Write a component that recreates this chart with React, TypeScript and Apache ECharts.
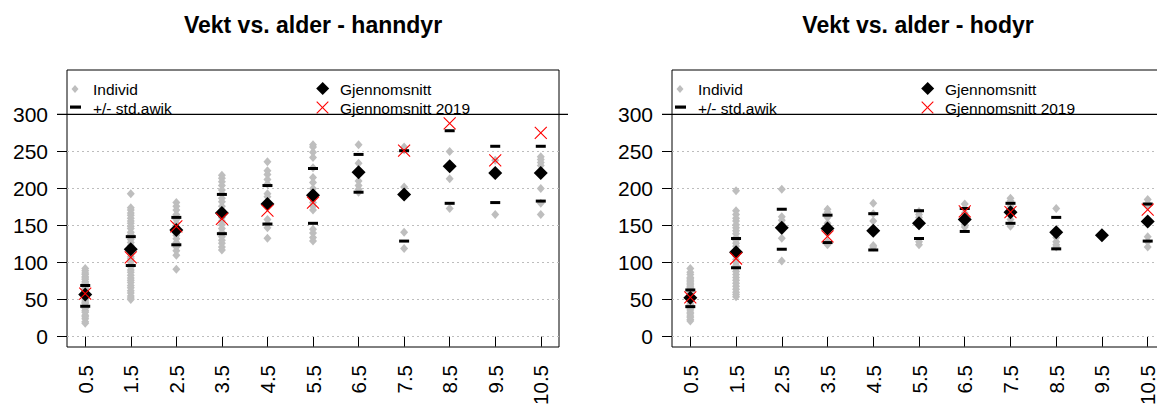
import React, { useEffect, useRef } from 'react';
import * as echarts from 'echarts';

const FONT = 'Liberation Sans, Arial, sans-serif';

const ages = [0.5, 1.5, 2.5, 3.5, 4.5, 5.5, 6.5, 7.5, 8.5, 9.5, 10.5];
const yTicks = [0, 50, 100, 150, 200, 250, 300];
const gridLineValues = [0, 50, 100, 150, 200, 250];

const titles = ['Vekt vs. alder - hanndyr', 'Vekt vs. alder - hodyr'];
const legendNames = ['Individ', '+/- std.awik', 'Gjennomsnitt', 'Gjennomsnitt 2019'];

// Hanndyr
const hannIndivid: number[][] = [
  [18, 20, 24, 27, 29, 33, 35, 38, 40, 42, 45, 46, 48, 50, 52, 54, 55, 57, 58, 60, 62, 64, 65, 67, 69, 71, 72, 74, 77, 79, 81, 84, 86, 89, 92],
  [193, 174, 171, 167, 164, 160, 156, 153, 149, 146, 141, 138, 134, 131, 127, 123, 119, 116, 112, 108, 105, 101, 97, 94, 90, 87, 83, 79, 76, 73, 69, 66, 62, 59, 55, 52, 50],
  [181, 176, 171, 165, 158, 153, 148, 144, 140, 137, 132, 127, 121, 116, 110, 91],
  [218, 214, 209, 204, 198, 193, 187, 182, 176, 171, 166, 161, 156, 151, 146, 141, 135, 130, 126, 121, 117],
  [236, 224, 219, 212, 206, 193, 189, 158, 152, 147, 133],
  [259, 256, 249, 242, 228, 215, 208, 200, 193, 186, 181, 176, 171, 145, 140, 134, 129],
  [259, 234, 210, 204, 199, 195],
  [256, 252, 202, 141, 119],
  [250, 213, 173],
  [238, 165],
  [243, 239, 235, 231, 200, 180, 165],
];
const hannMean = [57, 118, 144, 167, 179, 191, 222, 192, 230, 221, 221];
const hannSdHigh = [69, 135, 161, 192, 204, 227, 246, 251, 278, 257, 257];
const hannSdLow = [41, 96, 124, 139, 152, 153, 195, 129, 180, 181, 183];
const hannMean2019: (number | null)[] = [58, 107, 149, 159, 170, 181, null, 251, 288, 238, 275];

// Hodyr
const hoIndivid: number[][] = [
  [21, 23, 26, 28, 31, 33, 36, 38, 40, 43, 44, 47, 49, 51, 53, 55, 56, 58, 60, 62, 64, 66, 68, 70, 72, 74, 76, 78, 80, 84, 87, 92],
  [197, 170, 165, 160, 156, 151, 147, 143, 139, 134, 130, 126, 122, 117, 113, 109, 104, 100, 96, 92, 88, 84, 80, 76, 72, 68, 64, 60, 57, 54],
  [199, 162, 157, 152, 147, 143, 133, 102],
  [172, 168, 161, 153, 146, 140, 128, 124],
  [180, 166, 156, 123, 121],
  [169, 165, 161, 157, 150, 128, 124],
  [179, 173, 167, 162, 156, 151, 148],
  [187, 183, 176, 165, 158, 149],
  [173, 139, 134, 128, 124, 121],
  [137],
  [185, 180, 176, 135, 128, 121],
];
const hoMean = [52.5, 114, 147, 146, 143, 153, 158, 168, 141, 137, 155.5];
const hoSdHigh: (number | null)[] = [63, 132.5, 172, 164, 166, 170, 173, 180, 161, null, 179];
const hoSdLow: (number | null)[] = [40.5, 93, 118, 127, 117, 132.5, 142, 153, 118.5, null, 129];
const hoMean2019: (number | null)[] = [53, 105.5, null, 135.5, null, null, 169, 168, null, null, 171.5];

const X_PATH = 'path://M0,0L10,10M10,0L0,10';

function pairs(vals: (number | null)[]) {
  const out: number[][] = [];
  vals.forEach((v, i) => {
    if (v !== null && v !== undefined) out.push([ages[i], v]);
  });
  return out;
}

function panelSeries(idx: number, individ: number[][], mean: number[], sdHigh: (number | null)[], sdLow: (number | null)[], mean2019: (number | null)[]) {
  const indData: number[][] = [];
  individ.forEach((arr, i) => arr.forEach((v) => indData.push([ages[i], v])));
  return [
    {
      name: legendNames[0],
      type: 'scatter',
      xAxisIndex: idx,
      yAxisIndex: idx,
      symbol: 'diamond',
      symbolSize: [8, 9],
      itemStyle: { color: '#bebebe', opacity: 1 },
      data: indData,
      z: 3,
      silent: true,
      markLine: {
        silent: true,
        symbol: ['none', 'none'],
        label: { show: false },
        lineStyle: { color: '#bdbdbd', type: [2, 3], width: 1, opacity: 1 },
        data: gridLineValues.map((v) => ({ yAxis: v })),
        z: 1,
      },
    },
    {
      name: legendNames[1],
      type: 'scatter',
      xAxisIndex: idx,
      yAxisIndex: idx,
      symbol: 'rect',
      symbolSize: [10, 3],
      itemStyle: { color: '#000', opacity: 1 },
      data: [...pairs(sdHigh), ...pairs(sdLow)],
      z: 4,
      silent: true,
    },
    {
      name: legendNames[2],
      type: 'scatter',
      xAxisIndex: idx,
      yAxisIndex: idx,
      symbol: 'diamond',
      symbolSize: 14,
      itemStyle: { color: '#000', opacity: 1 },
      data: pairs(mean),
      z: 5,
      silent: true,
    },
    {
      name: legendNames[3],
      type: 'scatter',
      xAxisIndex: idx,
      yAxisIndex: idx,
      symbol: X_PATH,
      symbolSize: 12,
      itemStyle: { color: 'transparent', borderColor: '#ff0000', borderWidth: 1.1, opacity: 1 },
      data: pairs(mean2019),
      z: 6,
      silent: true,
    },
  ];
}

function legendGraphics(dx: number) {
  const t = (text: string, x: number, y: number) => ({
    type: 'text',
    x: x + dx,
    y,
    style: { text, fontSize: 15.5, fontFamily: FONT, fill: '#000', verticalAlign: 'middle', align: 'left' },
  });
  const diamond = (cx: number, cy: number, w: number, h: number, fill: string) => ({
    type: 'polygon',
    shape: { points: [[cx + dx, cy - h / 2], [cx + dx + w / 2, cy], [cx + dx, cy + h / 2], [cx + dx - w / 2, cy]] },
    style: { fill },
  });
  return [
    diamond(75, 89, 7, 8, '#bebebe'),
    { type: 'rect', shape: { x: 70 + dx, y: 105.5, width: 11, height: 3.2 }, style: { fill: '#000' } },
    t(legendNames[0], 93, 89.5),
    t(legendNames[1], 93, 108.5),
    diamond(322.7, 88.5, 13, 13, '#000'),
    { type: 'line', shape: { x1: 316.7 + dx, y1: 101.7, x2: 328.3 + dx, y2: 113.3 }, style: { stroke: '#ff0000', lineWidth: 1.1 } },
    { type: 'line', shape: { x1: 328.3 + dx, y1: 101.7, x2: 316.7 + dx, y2: 113.3 }, style: { stroke: '#ff0000', lineWidth: 1.1 } },
    t(legendNames[2], 340, 89.5),
    t(legendNames[3], 340, 108.5),
  ];
}

function xAxis(idx: number) {
  return {
    type: 'value',
    gridIndex: idx,
    min: 0.1,
    max: 10.9,
    axisLine: { show: false },
    splitLine: { show: false },
    axisTick: { show: true, length: 10, customValues: ages, lineStyle: { color: '#000', width: 1 } },
    axisLabel: {
      customValues: ages,
      rotate: 90,
      margin: 18,
      fontSize: 20.5,
      fontFamily: FONT,
      color: '#000',
      formatter: (v: number) => v.toFixed(1),
    },
  };
}

function yAxis(idx: number) {
  return {
    type: 'value',
    gridIndex: idx,
    min: -14,
    max: 360,
    axisLine: { show: false },
    splitLine: { show: false },
    axisTick: { show: true, length: 10, customValues: yTicks, lineStyle: { color: '#000', width: 1 } },
    axisLabel: { customValues: yTicks, margin: 19, fontSize: 21, fontFamily: FONT, color: '#000' },
  };
}

export default function App() {
  const ref = useRef<HTMLDivElement>(null);
  useEffect(() => {
    if (!ref.current) return;
    const chart = echarts.init(ref.current, null, { renderer: 'svg' });
    chart.setOption({
      animation: false,
      backgroundColor: '#fff',
      grid: [
        { left: 67, top: 70, width: 492, height: 277, show: true, borderColor: '#000', borderWidth: 1, backgroundColor: 'transparent', containLabel: false, outerBoundsMode: 'none' },
        { left: 672, top: 70, width: 494, height: 277, show: true, borderColor: '#000', borderWidth: 1, backgroundColor: 'transparent', containLabel: false, outerBoundsMode: 'none' },
      ],
      xAxis: [xAxis(0), xAxis(1)],
      yAxis: [yAxis(0), yAxis(1)],
      series: [
        ...panelSeries(0, hannIndivid, hannMean, hannSdHigh, hannSdLow, hannMean2019),
        ...panelSeries(1, hoIndivid, hoMean, hoSdHigh, hoSdLow, hoMean2019),
      ],
      graphic: [
        { type: 'text', x: 313, y: 25, style: { text: titles[0], fontSize: 23, fontWeight: 'bold', fontFamily: FONT, fill: '#000', align: 'center', verticalAlign: 'middle' } },
        { type: 'text', x: 918, y: 25, style: { text: titles[1], fontSize: 23, fontWeight: 'bold', fontFamily: FONT, fill: '#000', align: 'center', verticalAlign: 'middle' } },
        { type: 'line', shape: { x1: 57, y1: 114.4, x2: 568, y2: 114.4 }, style: { stroke: '#000', lineWidth: 1.2 }, z: 10 },
        { type: 'line', shape: { x1: 662, y1: 114.4, x2: 1157, y2: 114.4 }, style: { stroke: '#000', lineWidth: 1.2 }, z: 10 },
        ...legendGraphics(0),
        ...legendGraphics(605),
      ],
    });
    return () => chart.dispose();
  }, []);
  return <div ref={ref} style={{ position: 'fixed', left: 0, top: 0, width: 1157, height: 405 }} />;
}
